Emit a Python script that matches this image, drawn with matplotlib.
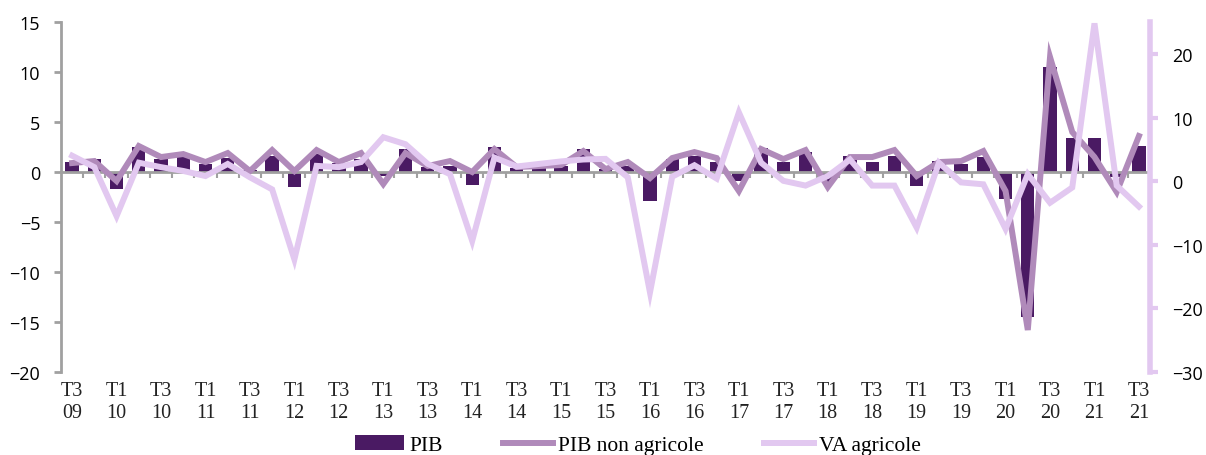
import numpy as np
import matplotlib
matplotlib.use("Agg")
import matplotlib.pyplot as plt
from matplotlib.transforms import blended_transform_factory

# trimestres T3 2009 -> T3 2021
quarters = []
for y in range(2009, 2022):
    for q in range(1, 5):
        if (y == 2009 and q < 3) or (y == 2021 and q > 3):
            continue
        quarters.append(f"T{q}\n{str(y)[2:]}")

# croissance trimestrielle (%)
pib = [1.0, 1.3, -1.7, 2.5, 1.3, 1.6, 0.8, 1.4, 0.2, 1.6,
       -1.5, 1.8, 0.9, 1.3, -0.4, 2.3, 0.5, 0.6, -1.3, 2.5,
       0.4, 0.5, 0.6, 2.3, 0.3, 0.6, -2.9, 1.3, 1.6, 1.0,
       -0.9, 2.4, 1.0, 2.0, -1.0, 1.6, 1.0, 1.6, -1.4, 1.1,
       0.8, 1.5, -2.7, -14.5, 10.5, 3.4, 3.4, -0.5, 2.6]
pib_non_agri = [0.9, 1.1, -0.9, 2.6, 1.5, 1.8, 1.0, 1.9, 0.1, 2.2,
                0.1, 2.2, 1.0, 1.9, -1.2, 1.9, 0.6, 1.1, 0.0, 2.3,
                0.5, 0.6, 0.7, 2.1, 0.3, 1.0, -0.6, 1.4, 2.0, 1.4,
                -1.9, 2.3, 1.3, 2.2, -1.5, 1.5, 1.5, 2.2, -0.4, 1.0,
                1.1, 2.1, -1.9, -15.8, 11.5, 4.0, 1.5, -2.0, 3.6]
va_agri = [4.0, 2.2, -5.5, 2.9, 2.2, 1.6, 0.8, 2.7, 0.6, -1.3,
           -12.3, 2.4, 2.2, 3.0, 6.9, 5.8, 2.7, 1.1, -9.4, 3.7,
           2.3, 2.7, 3.1, 3.4, 3.5, 0.6, -17.5, 0.7, 2.5, 0.4,
           10.8, 2.9, 0.05, -0.7, 0.8, 3.4, -0.7, -0.7, -7.3, 2.9,
           -0.2, -0.5, -7.5, 1.1, -3.4, -1.0, 24.8, -0.7, -4.0]

c_pib = "#4a1a63"
c_non_agri = "#b08aba"
c_va = "#e2c8f0"
grey = "#a0a0a0"

x = np.arange(len(quarters))

fig = plt.figure(figsize=(12.06, 4.56), dpi=100)
ax = fig.add_axes([0.0506, 0.182, 0.903, 0.7674])
ax2 = ax.twinx()

b = ax.bar(x, pib, width=0.6, color=c_pib, label="PIB", zorder=2)
l1, = ax.plot(x, pib_non_agri, color=c_non_agri, lw=4.3, label="PIB non agricole",
              zorder=3, solid_joinstyle="miter")
l2, = ax2.plot(x, va_agri, color=c_va, lw=4.3, label="VA agricole",
               solid_joinstyle="miter")

ax.set_xlim(-0.5, len(x) - 0.5)
ax.set_ylim(-20, 15)
ax.set_yticks(np.arange(-20, 16, 5))
ax2.set_ylim(-30, 25)
ax2.set_yticks(np.arange(-30, 21, 10))

sans = "Open Sans"
for a in (ax, ax2):
    for lab in a.get_yticklabels():
        lab.set_fontfamily(sans)
        lab.set_fontsize(13)

# axe gauche
for s in ["top", "right"]:
    ax.spines[s].set_visible(False)
ax.spines["left"].set_color(grey)
ax.spines["left"].set_linewidth(2)
ax.spines["bottom"].set_position(("data", 0))
ax.spines["bottom"].set_color(grey)
ax.spines["bottom"].set_linewidth(2)
ax.tick_params(axis="y", color=grey, width=2, length=5, pad=10)
ax.set_xticks(x[:-1] + 0.5, minor=True)
ax.set_xticks([])
ax.tick_params(axis="x", which="minor", color=grey, width=1.5, length=4, direction="out")

# axe droit
for s in ["top", "left", "bottom"]:
    ax2.spines[s].set_visible(False)
ax2.spines["right"].set_color(c_va)
ax2.spines["right"].set_linewidth(4)
ax2.tick_params(axis="y", color=c_va, width=3, length=6, pad=10)

# libelles trimestres
tr = blended_transform_factory(ax.transData, ax.transAxes)
for i in range(0, len(x), 2):
    ax.text(x[i], -0.025, quarters[i], transform=tr, ha="center", va="top",
            family="Liberation Serif", fontsize=14.5, color="#222222", linespacing=1.2)

fig.legend(handles=[b, l1, l2], loc="lower center", bbox_to_anchor=(0.529, -0.043),
           ncol=3, frameon=False, columnspacing=2.8, handlelength=2.3,
           handletextpad=0.25, prop={"family": "Liberation Serif", "size": 15.5})

fig.savefig("out.png", dpi=100)
